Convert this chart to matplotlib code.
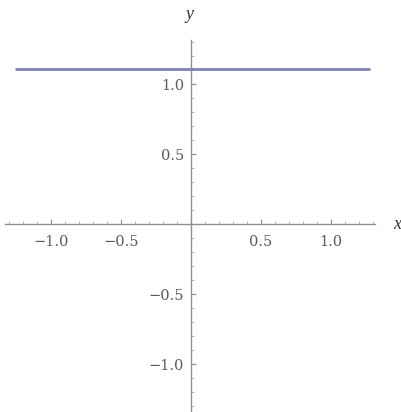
import numpy as np
import matplotlib.pyplot as plt
from matplotlib.ticker import FixedLocator

# Constant function y = c over the plotted domain
x_start, x_end = -1.26, 1.28
y_value = 1.11

x_ticks = [-1.0, -0.5, 0.5, 1.0]
x_tick_labels = ["\u22121.0", "\u22120.5", "0.5", "1.0"]
y_ticks = [-1.0, -0.5, 0.5, 1.0]
y_tick_labels = ["\u22121.0", "\u22120.5", "0.5", "1.0"]

plt.rcParams['font.family'] = ['DejaVu Serif']

fig = plt.figure(figsize=(4.01, 4.12), dpi=100)
ax = fig.add_axes([0, 0, 1, 1])
ax.set_xlim(-191 / 140, 210 / 140)
ax.set_ylim(-188 / 140, 224 / 140)

axis_col = '#8f8f8f'
label_col = '#5a5a5a'

for s in ('top', 'right'):
    ax.spines[s].set_visible(False)
ax.spines['bottom'].set_position(('data', 0))
ax.spines['left'].set_position(('data', 0))
ax.spines['bottom'].set_bounds(-1.33, 1.315)
ax.spines['left'].set_bounds(-1.35, 1.315)
for s in ('bottom', 'left'):
    ax.spines[s].set_color(axis_col)
    ax.spines[s].set_linewidth(1.0)

minor = [v / 10 for v in range(-13, 14) if v % 5 != 0]
ax.xaxis.set_major_locator(FixedLocator(x_ticks))
ax.yaxis.set_major_locator(FixedLocator(y_ticks))
ax.set_xticklabels(x_tick_labels)
ax.set_yticklabels(y_tick_labels)
ax.xaxis.set_minor_locator(FixedLocator(minor))
ax.yaxis.set_minor_locator(FixedLocator(minor))

ax.tick_params(axis='both', which='major', direction='in', length=3.5, width=0.8,
               color=axis_col, labelcolor=label_col, labelsize=10.5)
ax.tick_params(axis='both', which='minor', direction='in', length=2, width=0.6,
               color='#a8a8a8')
ax.tick_params(axis='x', which='major', pad=8)
ax.tick_params(axis='y', which='major', pad=5)

ax.plot([x_start, x_end], [y_value, y_value], color='#8080b8', linewidth=2.0,
        solid_capstyle='butt', zorder=3)

ax.text(1.475, 0.0, 'x', fontsize=13, style='italic', color='#333333',
        family='Liberation Serif', ha='center', va='center')
ax.text(-0.01, 1.5, 'y', fontsize=13, style='italic', color='#333333',
        family='Liberation Serif', ha='center', va='center')

fig.savefig('out.png', dpi=100)
